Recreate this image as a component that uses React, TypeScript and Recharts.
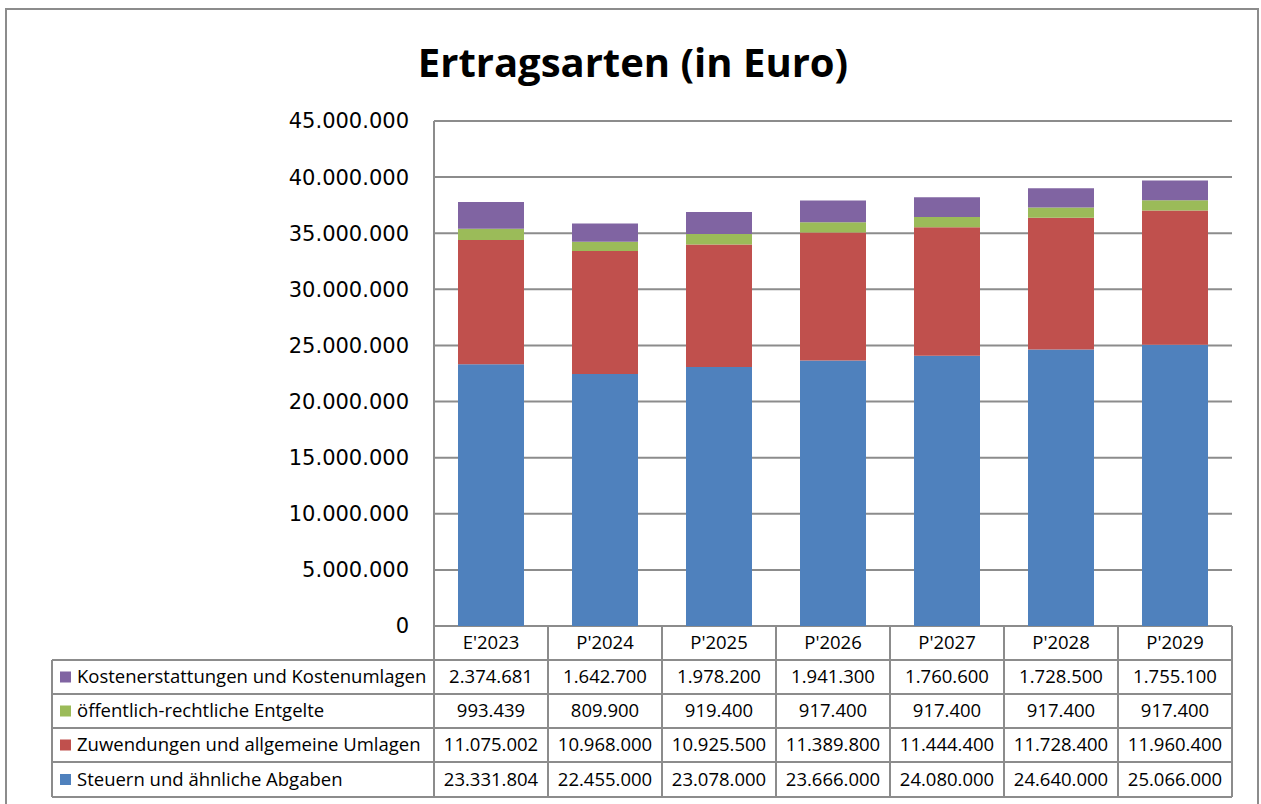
import { BarChart, Bar, XAxis, YAxis, CartesianGrid, Customized } from 'recharts';

const categories = ["E'2023", "P'2024", "P'2025", "P'2026", "P'2027", "P'2028", "P'2029"];
const steuern = [23331804, 22455000, 23078000, 23666000, 24080000, 24640000, 25066000];
const zuwendungen = [11075002, 10968000, 10925500, 11389800, 11444400, 11728400, 11960400];
const entgelte = [993439, 809900, 919400, 917400, 917400, 917400, 917400];
const kosten = [2374681, 1642700, 1978200, 1941300, 1760600, 1728500, 1755100];
const yTicks = [0, 5000000, 10000000, 15000000, 20000000, 25000000, 30000000, 35000000, 40000000, 45000000];

// table rows, top to bottom (as in the original)
const series = [
    { key: 'kosten', name: 'Kostenerstattungen und Kostenumlagen', color: '#8064A2', values: kosten },
    { key: 'entgelte', name: 'öffentlich-rechtliche Entgelte', color: '#9BBB59', values: entgelte },
    { key: 'zuwendungen', name: 'Zuwendungen und allgemeine Umlagen', color: '#C0504D', values: zuwendungen },
    { key: 'steuern', name: 'Steuern und ähnliche Abgaben', color: '#4F81BD', values: steuern },
];

const data = categories.map((cat, i) => ({
    cat,
    steuern: steuern[i],
    zuwendungen: zuwendungen[i],
    entgelte: entgelte[i],
    kosten: kosten[i],
}));

const fmt = (n: number) => String(n).replace(/\B(?=(\d{3})+(?!\d))/g, '.');

const W = 1250;
const H = 796;
const PLOT_LEFT = 427;
const PLOT_RIGHT = 1225;
const PLOT_TOP = 111;
const PLOT_BOTTOM = 616;
const COL_W = (PLOT_RIGHT - PLOT_LEFT) / categories.length;
const ROWS = [616, 650, 684, 718, 752, 787];
const LEGEND_LEFT = 45;
const LINE = '#8c8c8c';
const FONT = '"Open Sans", sans-serif';
const TABLE_FONT = 18.5;

const ColumnTick = (props: any) => {
    const { x, payload } = props;
    const i = payload.index;
    const left = x - COL_W / 2;
    const right = x + COL_W / 2;
    return (
        <g>
            <line x1={left} x2={left} y1={ROWS[0]} y2={ROWS[5]} stroke={LINE} strokeWidth={2} />
            <line x1={right} x2={right} y1={ROWS[0]} y2={ROWS[5]} stroke={LINE} strokeWidth={2} />
            <text x={x} y={(ROWS[0] + ROWS[1]) / 2} dy="0.35em" textAnchor="middle" fontSize={TABLE_FONT} fontFamily={FONT} fill="#000">
                {payload.value}
            </text>
            {series.map((s, r) => (
                <text key={s.key} x={x} y={(ROWS[r + 1] + ROWS[r + 2]) / 2} dy="0.35em" textAnchor="middle" fontSize={TABLE_FONT} fontFamily={FONT} fill="#000">
                    {fmt(s.values[i])}
                </text>
            ))}
        </g>
    );
};

const TableFrame = () => (
    <g>
        <line x1={PLOT_LEFT} x2={PLOT_RIGHT} y1={ROWS[0]} y2={ROWS[0]} stroke={LINE} strokeWidth={2} />
        {ROWS.slice(1).map((y) => (
            <line key={y} x1={LEGEND_LEFT} x2={PLOT_RIGHT} y1={y} y2={y} stroke={LINE} strokeWidth={2} />
        ))}
        <line x1={LEGEND_LEFT} x2={LEGEND_LEFT} y1={ROWS[1]} y2={ROWS[5]} stroke={LINE} strokeWidth={2} />
        {series.map((s, r) => {
            const cy = (ROWS[r + 1] + ROWS[r + 2]) / 2;
            return (
                <g key={s.key}>
                    <rect x={LEGEND_LEFT + 8} y={cy - 5.5} width={11} height={11} fill={s.color} />
                    <text x={LEGEND_LEFT + 25} y={cy} dy="0.35em" fontSize={TABLE_FONT} fontFamily={FONT} fill="#000">
                        {s.name}
                    </text>
                </g>
            );
        })}
        <text x={626} y={67} textAnchor="middle" fontSize={40} fontWeight="bold" fontFamily={FONT} fill="#000">
            Ertragsarten (in Euro)
        </text>
    </g>
);

const App = () => {
    return (
        <div
            style={{
                position: 'absolute',
                left: 5,
                top: 8,
                width: W + 4,
                height: H + 4,
                border: '2px solid #8c8c8c',
                boxSizing: 'border-box',
                background: '#fff',
            }}
        >
            <BarChart
                width={W}
                height={H}
                data={data}
                margin={{ top: PLOT_TOP, right: W - PLOT_RIGHT, bottom: 0, left: PLOT_LEFT - 120 }}
                barSize={66}
            >
                <CartesianGrid vertical={false} stroke={LINE} strokeWidth={2} />
                <XAxis
                    dataKey="cat"
                    height={H - PLOT_BOTTOM}
                    axisLine={false}
                    tickLine={false}
                    interval={0}
                    tick={<ColumnTick />}
                />
                <YAxis
                    width={120}
                    domain={[0, 45000000]}
                    ticks={yTicks}
                    interval={0}
                    tickFormatter={fmt}
                    axisLine={{ stroke: LINE, strokeWidth: 2 }}
                    tickLine={false}
                    tickSize={0}
                    tickMargin={25}
                    tick={{ fontSize: 21, fill: '#000', fontFamily: '"DejaVu Sans", sans-serif' }}
                />
                <Bar dataKey="steuern" stackId="a" fill="#4F81BD" isAnimationActive={false} />
                <Bar dataKey="zuwendungen" stackId="a" fill="#C0504D" isAnimationActive={false} />
                <Bar dataKey="entgelte" stackId="a" fill="#9BBB59" isAnimationActive={false} />
                <Bar dataKey="kosten" stackId="a" fill="#8064A2" isAnimationActive={false} />
                <Customized component={TableFrame} />
            </BarChart>
        </div>
    );
};

export default App;
